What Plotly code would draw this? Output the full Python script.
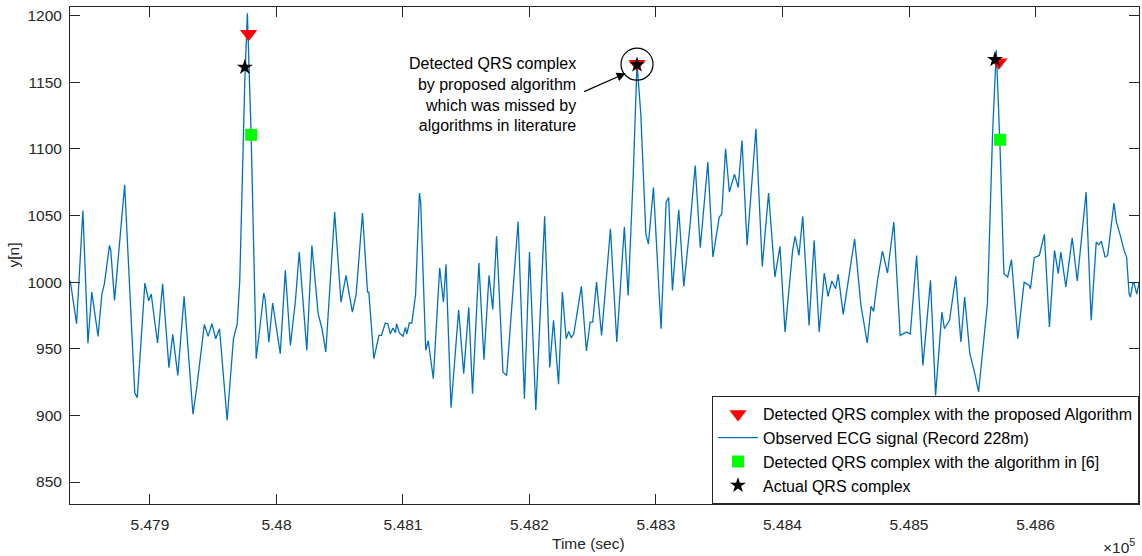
import plotly.graph_objects as go

# ---- data ----
time_samples = [547837, 547842, 547847, 547851, 547854, 547859, 547862, 547864, 547868, 547869,
                547872, 547880, 547888, 547890, 547896, 547899, 547901, 547906, 547910, 547915,
                547918, 547922, 547927, 547934, 547937, 547943, 547946, 547949, 547952, 547955,
                547961, 547966, 547969, 547971, 547975, 547977, 547980, 547984, 547990, 547991,
                547994, 547997, 548003, 548007, 548011, 548015, 548018, 548024, 548028, 548033,
                548036, 548039, 548046, 548051, 548055, 548060, 548063, 548068, 548072, 548073,
                548077, 548081, 548083, 548086, 548088, 548090, 548092, 548094, 548095, 548097,
                548100, 548102, 548103, 548105, 548107, 548110, 548113, 548114, 548118, 548120,
                548124, 548129, 548132, 548134, 548138, 548144, 548148, 548152, 548155, 548160,
                548164, 548168, 548171, 548174, 548179, 548182, 548191, 548196, 548200, 548205,
                548212, 548216, 548219, 548223, 548226, 548229, 548231, 548233, 548235, 548241,
                548245, 548248, 548250, 548253, 548257, 548264, 548269, 548275, 548278, 548282,
                548285, 548288, 548292, 548294, 548298, 548304, 548308, 548310, 548313, 548318,
                548322, 548327, 548331, 548335, 548341, 548345, 548350, 548352, 548355, 548358,
                548362, 548365, 548368, 548372, 548379, 548384, 548389, 548394, 548398, 548402,
                548408, 548410, 548413, 548416, 548421, 548425, 548429, 548433, 548436, 548439,
                548442, 548444, 548448, 548457, 548462, 548467, 548470, 548472, 548475, 548479,
                548483, 548488, 548493, 548496, 548498, 548501, 548506, 548511, 548517, 548521,
                548526, 548528, 548532, 548537, 548541, 548544, 548548, 548552, 548555, 548562,
                548566, 548569, 548572, 548575, 548578, 548581, 548586, 548591, 548595, 548596,
                548599, 548603, 548607, 548611, 548615, 548618, 548620, 548624, 548629, 548633,
                548640, 548644, 548648, 548650, 548652, 548655, 548657, 548662, 548664, 548667,
                548670, 548672, 548674, 548675, 548677, 548678, 548680, 548682]

ecg_values = [1001, 968.7, 1053.7, 954.2, 992.5, 959.3, 991, 998.8, 1027.5, 1024,
              986.3, 1073, 917, 913.2, 999.3, 986, 991, 954.3, 998.8, 935.8,
              960.8, 930, 989.3, 900.8, 921, 968.3, 959.3, 968.8, 957.5, 965,
              896.3, 957.5, 968.8, 1001, 1152, 1201.7, 1110, 942.5, 991.8, 987.5,
              955, 984.3, 946.3, 1008.8, 952.5, 986, 1022.5, 948.8, 1027.5, 976,
              965, 947.5, 1052.5, 985, 1005, 977.5, 991, 1051.8, 992.5, 992.5,
              942.5, 960, 960, 969.3, 968.8, 961.3, 965.5, 962, 968.8, 962,
              959.3, 966, 961, 969.3, 969.3, 991, 1066.8, 1060, 948.8, 956,
              927.5, 1010.8, 985, 1013.3, 905.7, 979.3, 931.3, 981, 916.3, 1014.5,
              941.8, 1005, 979.5, 1034.3, 932.5, 930, 1045.5, 912.5, 1022.5, 903.8,
              1049.3, 936, 971.3, 923.3, 992.5, 957.5, 963, 958.5, 961, 996.8,
              948.3, 970, 970, 1000, 960, 1040, 955, 1041.3, 990, 1080,
              1164, 1126, 1036, 1028.5, 1071, 965, 1060, 1063.5, 993.8, 1054.3,
              996.8, 1043.8, 1087.5, 1025.8, 1090, 1018.8, 1048.8, 1051, 1100, 1067.5,
              1081, 1071, 1106.3, 1027.5, 1115, 1011.8, 1066.8, 1003.8, 1026.8, 962.5,
              1023.8, 1034.3, 1020, 1049.3, 967.5, 1031.3, 962.5, 1006.8, 989.3, 1000.8,
              995, 1005.8, 975.8, 1032.5, 982.5, 954.3, 981.8, 978, 1000.8, 1023.3,
              1006.8, 1045, 960, 961.8, 962.5, 961, 1020, 937.5, 1001.3, 915,
              977.5, 965, 971.3, 1004.3, 955, 988.8, 946.8, 931.3, 917.5, 983.8,
              1110, 1174, 1100, 1006.3, 1003.8, 1016.8, 957.5, 1000, 997.5, 995,
              1018.3, 1020, 1035.8, 966.3, 1023.8, 1006.3, 1022.5, 996.3, 1033.3, 1000.8,
              1067.5, 971.3, 1030, 1028, 1030.8, 1018.8, 1020, 1059.3, 1045, 1035,
              1023.8, 1018.8, 991, 988.8, 999.3, 999, 991, 1000]

proposed_t = [547978, 548285, 548571]
proposed_y = [1186.3, 1163.8, 1165]

lit_t = [547980, 548572]
lit_y = [1110.5, 1106.8]

actual_t = [547975, 548285, 548568]
actual_y = [1161.2, 1163, 1167]

xtick_vals = [547900, 548000, 548100, 548200, 548300, 548400, 548500, 548600]
xtick_text = ["5.479", "5.48", "5.481", "5.482", "5.483", "5.484", "5.485", "5.486"]
ytick_vals = [850, 900, 950, 1000, 1050, 1100, 1150, 1200]

missed_t = 548285
missed_y = 1163.5

FONT = "Liberation Sans, Arial, Helvetica, sans-serif"
AX = "#262626"

fig = go.Figure()
fig.add_trace(go.Scatter(x=time_samples, y=ecg_values, mode="lines",
                         line=dict(color="#0072BD", width=1.3),
                         name="Observed ECG signal (Record 228m)", legendrank=2))
fig.add_trace(go.Scatter(x=lit_t, y=lit_y, mode="markers",
                         marker=dict(symbol="square", size=12, color="#00FF00"),
                         name="Detected QRS complex with the algorithm in [6]", legendrank=3))
fig.add_trace(go.Scatter(x=proposed_t, y=proposed_y, mode="markers",
                         marker=dict(symbol="triangle-down", size=15, color="#FF0000"),
                         name="Detected QRS complex with the proposed Algorithm", legendrank=1))
fig.add_trace(go.Scatter(x=actual_t, y=actual_y, mode="markers",
                         marker=dict(symbol="star", size=12, color="black"),
                         name="Actual QRS complex", legendrank=4))

# circle around the missed detection
fig.add_shape(type="circle", xref="x", yref="y", xsizemode="pixel", ysizemode="pixel",
              xanchor=missed_t, yanchor=missed_y, x0=-16, x1=16, y0=-16, y1=16,
              line=dict(color="black", width=1.2))
# arrow
fig.add_annotation(x=548276, y=1156.7, xref="x", yref="y", ax=-43, ay=19, text="",
                   showarrow=True, arrowhead=2, arrowsize=1.5, arrowwidth=1.2,
                   arrowcolor="black")
# explanatory text
fig.add_annotation(x=548238, y=1141, xref="x", yref="y", xanchor="right", yanchor="middle",
                   align="right", showarrow=False,
                   text="Detected QRS complex<br>by proposed algorithm<br>which was missed by<br>algorithms in literature",
                   font=dict(family=FONT, size=16, color="black"))
# axis labels
fig.add_annotation(x=0.4846, y=0, xref="paper", yref="paper", yshift=-39, xanchor="center",
                   yanchor="middle", showarrow=False, text="Time (sec)",
                   font=dict(family=FONT, size=15.5, color=AX))
fig.add_annotation(x=0, y=0.5, xref="paper", yref="paper", xshift=-57, xanchor="center",
                   yanchor="middle", showarrow=False, text="y[n]", textangle=-90,
                   font=dict(family=FONT, size=15.5, color=AX))
fig.add_annotation(x=1, y=0, xref="paper", yref="paper", xshift=-2, yshift=-42,
                   xanchor="right", yanchor="middle", showarrow=False,
                   text="×10<sup>5</sup>", font=dict(family=FONT, size=15.5, color=AX))

fig.update_xaxes(range=[547836.8, 548681.8], tickvals=xtick_vals, ticktext=xtick_text,
                 ticks="inside", ticklen=10, tickwidth=1, tickcolor=AX, showline=True,
                 linecolor=AX, linewidth=1, mirror="ticks", showgrid=False, zeroline=False,
                 tickfont=dict(family=FONT, size=15.5, color=AX), ticklabelstandoff=6)
fig.update_yaxes(range=[833.5, 1206.4], tickvals=ytick_vals,
                 ticks="inside", ticklen=10, tickwidth=1, tickcolor=AX, showline=True,
                 linecolor=AX, linewidth=1, mirror="ticks", showgrid=False, zeroline=False,
                 tickfont=dict(family=FONT, size=15.5, color=AX), ticklabelstandoff=4)

fig.update_layout(width=1142, height=556, autosize=False,
                  margin=dict(l=70, r=3, t=7, b=52, pad=0),
                  paper_bgcolor="white", plot_bgcolor="white",
                  font=dict(family=FONT, size=16, color="black"),
                  showlegend=True,
                  legend=dict(x=1, y=0, xanchor="right", yanchor="bottom",
                              bgcolor="white", bordercolor=AX, borderwidth=1,
                              font=dict(family=FONT, size=16, color="black"),
                              itemwidth=40,
                              tracegroupgap=0, traceorder="normal"))

fig.write_html("out.html")
